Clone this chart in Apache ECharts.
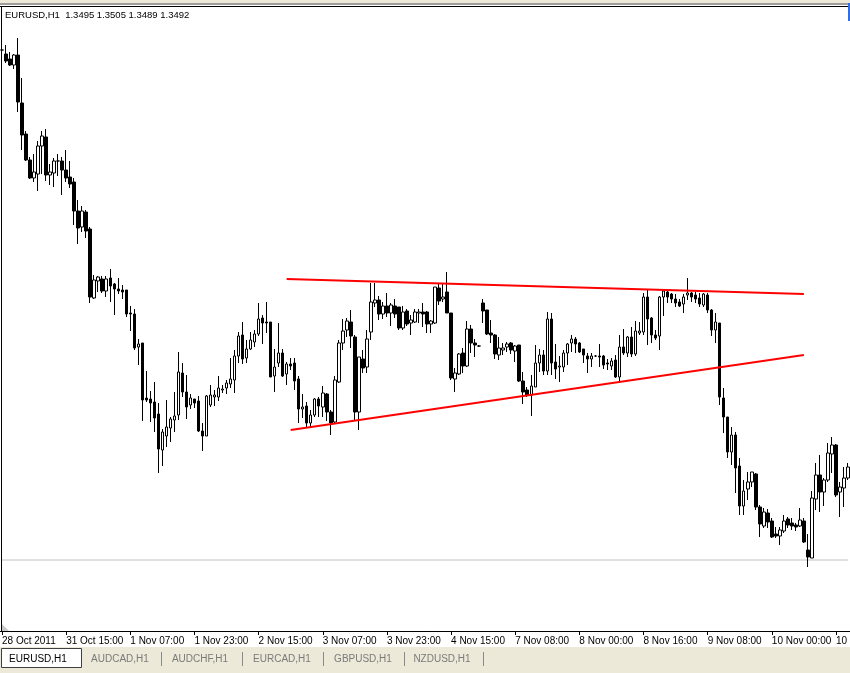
<!DOCTYPE html>
<html>
<head>
<meta charset="utf-8">
<script src="https://cdn.jsdelivr.net/npm/echarts@6/dist/echarts.min.js"></script>
<style>
html,body{margin:0;padding:0;background:#fff;}
#chart{width:850px;height:673px;}
</style>
</head>
<body>
<div id="chart"></div>
<script>
// EURUSD H1 bars (first slot is a partly hidden bar at the left border)
const open = [1.4150,
1.4146,1.4141,1.4135,1.4145,1.4097,1.4066,1.4040,1.4022,1.4026,1.4054,1.4063,1.4025,1.4027,1.4039,1.4039,1.4030,1.4023,1.4018,1.3989,1.3973,
1.3988,1.3971,1.3902,1.3919,1.3921,1.3909,1.3922,1.3916,1.3911,1.3910,1.3910,1.3887,1.3886,1.3853,1.3857,1.3802,1.3801,1.3798,1.3786,1.3750,
1.3764,1.3772,1.3780,1.3785,1.3827,1.3808,1.3795,1.3801,1.3799,1.3769,1.3764,1.3795,1.3803,1.3803,1.3810,1.3812,1.3816,1.3820,1.3844,1.3865,
1.3842,1.3851,1.3858,1.3866,1.3882,1.3878,1.3878,1.3824,1.3837,1.3847,1.3826,1.3836,1.3837,1.3821,1.3791,1.3794,1.3777,1.3785,1.3801,1.3793,
1.3806,1.3788,1.3778,1.3818,1.3857,1.3870,1.3878,1.3863,1.3788,1.3841,1.3833,1.3868,1.3897,1.3900,1.3886,1.3894,1.3887,1.3894,1.3893,1.3872,
1.3889,1.3877,1.3878,1.3887,1.3888,1.3888,1.3876,1.3877,1.3912,1.3901,1.3908,1.3887,1.3821,1.3826,1.3847,1.3834,1.3871,1.3857,1.3854,1.3897,
1.3890,1.3867,1.3865,1.3845,1.3850,1.3853,1.3857,1.3849,1.3855,1.3819,1.3810,1.3805,1.3813,1.3837,1.3845,1.3829,1.3881,1.3838,1.3833,1.3833,
1.3847,1.3857,1.3861,1.3857,1.3851,1.3844,1.3841,1.3844,1.3844,1.3844,1.3837,1.3834,1.3840,1.3823,1.3853,1.3847,1.3863,1.3846,1.3867,1.3868,
1.3903,1.3882,1.3865,1.3864,1.3903,1.3908,1.3906,1.3901,1.3898,1.3896,1.3905,1.3907,1.3905,1.3902,1.3895,1.3905,1.3890,1.3870,1.3877,1.3802,
1.3783,1.3748,1.3765,1.3734,1.3694,1.3711,1.3718,1.3726,1.3693,1.3674,1.3687,1.3679,1.3666,1.3664,1.3669,1.3681,1.3677,1.3675,1.3674,1.3679,
1.3650,1.3642,1.3701,1.3725,1.3708,1.3720,1.3746,1.3755,1.3708,1.3712,1.3722];
const close = [1.4150,
1.4139,1.4135,1.4145,1.4098,1.4065,1.4040,1.4022,1.4028,1.4054,1.4064,1.4025,1.4028,1.4039,1.4039,1.4030,1.4022,1.4016,1.3989,1.3972,1.3989,
1.3969,1.3903,1.3920,1.3923,1.3909,1.3921,1.3914,1.3911,1.3909,1.3908,1.3886,1.3886,1.3852,1.3856,1.3800,1.3800,1.3797,1.3782,1.3751,1.3768,
1.3773,1.3781,1.3784,1.3828,1.3808,1.3793,1.3802,1.3797,1.3769,1.3764,1.3804,1.3805,1.3805,1.3812,1.3811,1.3817,1.3821,1.3844,1.3864,1.3841,
1.3851,1.3860,1.3866,1.3881,1.3877,1.3877,1.3823,1.3833,1.3847,1.3824,1.3836,1.3834,1.3819,1.3791,1.3793,1.3777,1.3785,1.3801,1.3794,1.3807,
1.3788,1.3777,1.3820,1.3857,1.3869,1.3879,1.3864,1.3788,1.3843,1.3832,1.3861,1.3898,1.3900,1.3886,1.3894,1.3887,1.3895,1.3886,1.3872,1.3888,
1.3876,1.3880,1.3888,1.3888,1.3886,1.3876,1.3879,1.3913,1.3899,1.3903,1.3887,1.3822,1.3827,1.3846,1.3834,1.3871,1.3857,1.3855,1.3854,1.3889,
1.3866,1.3865,1.3846,1.3852,1.3852,1.3856,1.3850,1.3854,1.3819,1.3808,1.3805,1.3814,1.3837,1.3845,1.3829,1.3881,1.3837,1.3831,1.3834,1.3847,
1.3856,1.3861,1.3856,1.3848,1.3845,1.3841,1.3844,1.3844,1.3843,1.3835,1.3836,1.3839,1.3823,1.3853,1.3847,1.3863,1.3846,1.3869,1.3869,1.3903,
1.3881,1.3865,1.3862,1.3903,1.3909,1.3903,1.3901,1.3897,1.3894,1.3903,1.3907,1.3903,1.3901,1.3896,1.3906,1.3890,1.3870,1.3878,1.3803,1.3783,
1.3748,1.3765,1.3732,1.3694,1.3709,1.3718,1.3728,1.3693,1.3676,1.3688,1.3678,1.3663,1.3664,1.3670,1.3679,1.3675,1.3674,1.3673,1.3680,1.3658,
1.3643,1.3702,1.3725,1.3708,1.3720,1.3747,1.3755,1.3705,1.3713,1.3722,1.3733];
const low = [1.4149,
1.4137,1.4134,1.4131,1.4088,1.4050,1.4039,1.4021,1.4018,1.4009,1.4026,1.4019,1.4015,1.4013,1.4024,1.4005,1.4018,1.4012,1.3975,1.3956,1.3968,
1.3962,1.3897,1.3901,1.3908,1.3907,1.3903,1.3898,1.3885,1.3906,1.3901,1.3883,1.3869,1.3850,1.3835,1.3779,1.3798,1.3778,1.3768,1.3727,1.3734,
1.3753,1.3758,1.3768,1.3780,1.3803,1.3781,1.3791,1.3792,1.3768,1.3749,1.3764,1.3793,1.3794,1.3799,1.3807,1.3806,1.3812,1.3807,1.3837,1.3836,
1.3837,1.3850,1.3853,1.3864,1.3856,1.3867,1.3823,1.3808,1.3833,1.3823,1.3815,1.3830,1.3810,1.3777,1.3782,1.3772,1.3773,1.3783,1.3783,1.3783,
1.3779,1.3765,1.3777,1.3817,1.3850,1.3863,1.3852,1.3780,1.3770,1.3827,1.3827,1.3860,1.3893,1.3880,1.3881,1.3883,1.3874,1.3882,1.3870,1.3870,
1.3874,1.3865,1.3877,1.3877,1.3873,1.3867,1.3867,1.3876,1.3895,1.3898,1.3887,1.3820,1.3808,1.3825,1.3827,1.3833,1.3847,1.3843,1.3853,1.3877,
1.3865,1.3857,1.3841,1.3840,1.3845,1.3848,1.3846,1.3838,1.3818,1.3796,1.3803,1.3784,1.3813,1.3828,1.3825,1.3825,1.3825,1.3821,1.3818,1.3828,
1.3835,1.3848,1.3847,1.3847,1.3837,1.3827,1.3833,1.3843,1.3833,1.3831,1.3830,1.3830,1.3822,1.3818,1.3845,1.3843,1.3843,1.3844,1.3865,1.3865,
1.3855,1.3857,1.3860,1.3850,1.3884,1.3897,1.3897,1.3893,1.3893,1.3887,1.3900,1.3898,1.3897,1.3893,1.3893,1.3887,1.3864,1.3857,1.3795,1.3767,
1.3742,1.3735,1.3707,1.3685,1.3685,1.3700,1.3713,1.3690,1.3663,1.3672,1.3672,1.3662,1.3662,1.3655,1.3667,1.3672,1.3670,1.3669,1.3673,1.3657,
1.3633,1.3642,1.3690,1.3688,1.3694,1.3718,1.3727,1.3703,1.3683,1.3693,1.3720];
const high = [1.4151,
1.4155,1.4148,1.4146,1.4162,1.4122,1.4069,1.4043,1.4046,1.4059,1.4069,1.4071,1.4036,1.4042,1.4046,1.4043,1.4050,1.4039,1.4022,1.4000,1.3994,
1.3990,1.3973,1.3925,1.3924,1.3924,1.3924,1.3931,1.3917,1.3922,1.3915,1.3910,1.3894,1.3891,1.3861,1.3857,1.3829,1.3809,1.3818,1.3797,1.3771,
1.3800,1.3783,1.3808,1.3848,1.3837,1.3825,1.3806,1.3801,1.3804,1.3777,1.3805,1.3815,1.3810,1.3824,1.3815,1.3820,1.3842,1.3850,1.3868,1.3878,
1.3860,1.3868,1.3870,1.3897,1.3885,1.3898,1.3878,1.3851,1.3877,1.3851,1.3838,1.3842,1.3842,1.3824,1.3806,1.3798,1.3790,1.3802,1.3803,1.3814,
1.3807,1.3790,1.3824,1.3860,1.3881,1.3882,1.3890,1.3865,1.3843,1.3850,1.3870,1.3917,1.3917,1.3904,1.3898,1.3907,1.3897,1.3901,1.3893,1.3894,
1.3891,1.3885,1.3891,1.3891,1.3897,1.3889,1.3880,1.3913,1.3917,1.3917,1.3928,1.3887,1.3832,1.3847,1.3852,1.3879,1.3875,1.3861,1.3855,1.3901,
1.3890,1.3880,1.3866,1.3863,1.3857,1.3858,1.3858,1.3855,1.3855,1.3828,1.3813,1.3825,1.3855,1.3851,1.3850,1.3888,1.3887,1.3856,1.3844,1.3850,
1.3857,1.3865,1.3863,1.3858,1.3851,1.3847,1.3847,1.3845,1.3856,1.3845,1.3841,1.3842,1.3845,1.3865,1.3871,1.3864,1.3873,1.3879,1.3878,1.3907,
1.3910,1.3883,1.3870,1.3904,1.3910,1.3909,1.3907,1.3906,1.3901,1.3906,1.3922,1.3908,1.3908,1.3907,1.3907,1.3907,1.3891,1.3887,1.3877,1.3812,
1.3783,1.3773,1.3768,1.3742,1.3720,1.3728,1.3728,1.3727,1.3695,1.3692,1.3691,1.3682,1.3673,1.3673,1.3685,1.3683,1.3682,1.3677,1.3692,1.3682,
1.3666,1.3709,1.3737,1.3745,1.3722,1.3757,1.3763,1.3756,1.3718,1.3733,1.3737];

// time axis labels, one every 16 bars
const tickLabels = ["28 Oct 2011","31 Oct 15:00","1 Nov 07:00","1 Nov 23:00","2 Nov 15:00","3 Nov 07:00",
  "3 Nov 23:00","4 Nov 15:00","7 Nov 08:00","8 Nov 00:00","8 Nov 16:00","9 Nov 08:00","10 Nov 00:00","10 Nov 16:00"];
const tickStep = 16;

// hand-drawn triangle lines [barIndex, price]
const upperLine = [[71, 1.3921], [200, 1.3906]];
const lowerLine = [[72, 1.3770], [200, 1.3845]];
const hLinePrice = 1.3640;

const header = "EURUSD,H1  1.3495 1.3505 1.3489 1.3492";
const tabs = ["EURUSD,H1","AUDCAD,H1","AUDCHF,H1","EURCAD,H1","GBPUSD,H1","NZDUSD,H1"];

const categories = open.map((_, i) => String(i));
const ohlc = open.map((o, i) => [o, close[i], low[i], high[i]]);
const hLine = [[0, hLinePrice], [categories.length - 1, hLinePrice]];

const FONT = "Liberation Sans";
const chart = echarts.init(document.getElementById('chart'), null, {renderer: 'canvas'});

const graphics = [
  {type:'rect', shape:{x:0,y:0,width:850,height:3}, style:{fill:'#ECE9D8'}, silent:true},
  {type:'rect', shape:{x:0,y:3,width:850,height:2}, style:{fill:'#9d9d9d'}, silent:true},
  {type:'rect', shape:{x:0,y:6,width:848,height:1}, style:{fill:'#000'}, silent:true},
  {type:'rect', shape:{x:1,y:6,width:1,height:625}, style:{fill:'#000'}, silent:true},
  {type:'rect', shape:{x:848,y:3,width:2,height:18}, style:{fill:'#2f6ee8'}, silent:true},
  {type:'polygon', shape:{points:[[2,624],[2,631],[9,631]]}, style:{fill:'#c8c8c8'}, silent:true},
  {type:'text', left:5, top:10, style:{text:header, font:'9.5px "'+FONT+'"', fill:'#000'}, silent:true},
  {type:'rect', shape:{x:0,y:647,width:850,height:26}, style:{fill:'#ECE9D8'}, silent:true},
  {type:'rect', shape:{x:1.5,y:648.5,width:80,height:19}, style:{fill:'#fff', stroke:'#404040', lineWidth:1}, silent:true}
];
const tabX = [38, 120, 200, 282, 363, 442];
const sepX = [161, 242, 323, 404, 483];
tabs.forEach((t, i) => {
  graphics.push({type:'text', x:tabX[i], y:659, style:{text:t, font:'10px "'+FONT+'"', fill: i===0 ? '#000' : '#7a7a7a', align:'center', verticalAlign:'middle'}, silent:true});
});
sepX.forEach(x => {
  graphics.push({type:'rect', shape:{x:x,y:652,width:1,height:14}, style:{fill:'#8a8a8a'}, silent:true});
});

chart.setOption({
  animation: false,
  backgroundColor: '#ffffff',
  grid: {left: 0, right: 0, top: 7, bottom: 42, containLabel: false, outerBoundsMode: 'none'},
  xAxis: {
    type: 'category',
    data: categories,
    boundaryGap: true,
    axisLine: {show: true, lineStyle: {color: '#000', width: 1}},
    axisTick: {show: true, alignWithLabel: true, length: 4, interval: (i) => i % tickStep === 0, lineStyle: {color: '#000'}},
    axisLabel: {
      interval: (i) => i % tickStep === 0,
      formatter: (v, i) => tickLabels[i / tickStep] || '',
      align: 'left', margin: 5, color: '#000', fontSize: 10, fontFamily: FONT,
      hideOverlap: false
    },
    splitLine: {show: false}
  },
  yAxis: {
    type: 'value', show: false, min: 1.3569, max: 1.4193,
    splitLine: {show: false}
  },
  graphic: graphics,
  series: [
    {type: 'line', data: hLine, symbol: 'none', lineStyle: {color: '#c0c0c0', width: 1}, z: 1, silent: true},
    {
      type: 'candlestick',
      data: ohlc,
      barWidth: 3,
      z: 3,
      itemStyle: {color: '#ffffff', color0: '#000000', borderColor: '#000000', borderColor0: '#000000', borderWidth: 1}
    },
    {type: 'line', data: upperLine, symbol: 'none', lineStyle: {color: '#ff0000', width: 2}, z: 5, silent: true},
    {type: 'line', data: lowerLine, symbol: 'none', lineStyle: {color: '#ff0000', width: 2}, z: 5, silent: true}
  ]
});
</script>
</body>
</html>
